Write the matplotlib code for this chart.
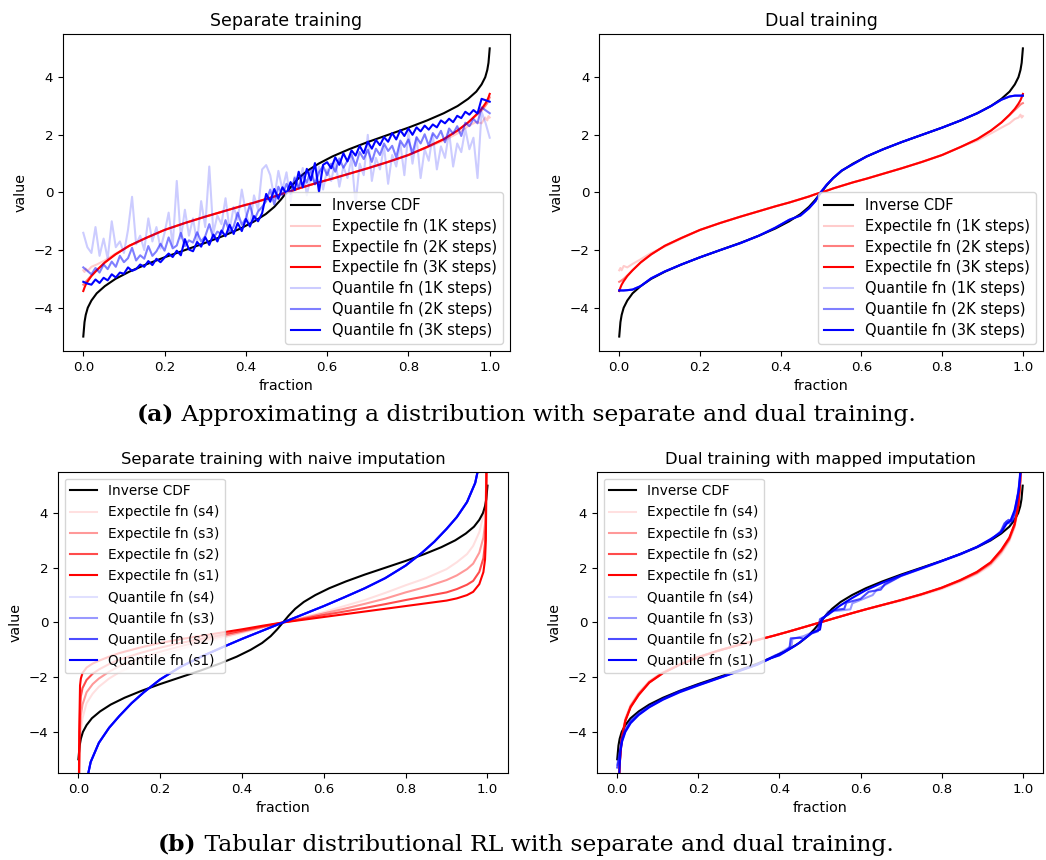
import numpy as np
import matplotlib.pyplot as plt

# fractions for the smooth curves (denser near the tails)
frac = [0, 0.003, 0.006, 0.011, 0.02, 0.033, 0.053, 0.079, 0.113, 0.154,
        0.2, 0.25, 0.3, 0.346, 0.387, 0.421, 0.449, 0.47, 0.486, 0.5,
        0.514, 0.53, 0.551, 0.579, 0.613, 0.654, 0.7, 0.75, 0.8, 0.846,
        0.887, 0.921, 0.947, 0.967, 0.98, 0.989, 0.994, 0.997, 1.0]

inverse_cdf = [-5.0, -4.5, -4.25, -4.0, -3.75, -3.5, -3.25, -3.0, -2.75, -2.5,
               -2.25, -2.0, -1.75, -1.5, -1.25, -1.0, -0.75, -0.5, -0.25, 0.0,
               0.25, 0.5, 0.75, 1.0, 1.25, 1.5, 1.75, 2.0, 2.25, 2.5,
               2.75, 3.0, 3.25, 3.5, 3.75, 4.0, 4.25, 4.5, 5.0]

# (a) expectile functions
exp_3k = [-3.42, -3.3, -3.2, -3.08, -2.9, -2.7, -2.43, -2.15, -1.85, -1.58,
          -1.3, -1.06, -0.84, -0.65, -0.48, -0.35, -0.23, -0.14, -0.06, 0.0,
          0.06, 0.14, 0.23, 0.35, 0.48, 0.65, 0.84, 1.06, 1.3, 1.58,
          1.85, 2.15, 2.43, 2.7, 2.9, 3.08, 3.2, 3.3, 3.42]
sep_exp_2k = [-3.2, -3.16, -3.1, -3.02, -2.88, -2.7, -2.43, -2.15, -1.85, -1.58,
              -1.3, -1.06, -0.84, -0.65, -0.48, -0.35, -0.23, -0.14, -0.06, 0.0,
              0.06, 0.14, 0.23, 0.35, 0.48, 0.65, 0.84, 1.06, 1.3, 1.58,
              1.85, 2.15, 2.43, 2.68, 2.85, 3.0, 3.1, 3.2, 3.3]
sep_exp_1k = [-2.7, -2.76, -2.64, -2.72, -2.58, -2.5, -2.36, -2.12, -1.86, -1.58,
              -1.3, -1.06, -0.84, -0.65, -0.48, -0.35, -0.23, -0.14, -0.06, 0.0,
              0.06, 0.14, 0.23, 0.35, 0.48, 0.65, 0.84, 1.06, 1.3, 1.56,
              1.8, 2.05, 2.3, 2.45, 2.4, 2.6, 2.5, 2.65, 2.6]
dual_exp_2k = [-3.1, -3.08, -3.05, -3.0, -2.88, -2.7, -2.43, -2.15, -1.85, -1.58,
               -1.3, -1.06, -0.84, -0.65, -0.48, -0.35, -0.23, -0.14, -0.06, 0.0,
               0.06, 0.14, 0.23, 0.35, 0.48, 0.65, 0.84, 1.06, 1.3, 1.58,
               1.85, 2.15, 2.43, 2.68, 2.86, 2.98, 3.05, 3.08, 3.1]
dual_exp_1k = [-2.7, -2.62, -2.7, -2.55, -2.6, -2.48, -2.32, -2.1, -1.88, -1.6,
               -1.3, -1.06, -0.84, -0.65, -0.48, -0.35, -0.23, -0.14, -0.06, 0.0,
               0.06, 0.14, 0.23, 0.35, 0.48, 0.65, 0.84, 1.06, 1.3, 1.58,
               1.8, 2.05, 2.25, 2.4, 2.55, 2.6, 2.7, 2.6, 2.65]

# (a) dual training quantile function
dual_quant = [-3.4, -3.4, -3.4, -3.4, -3.39, -3.37, -3.25, -2.98, -2.74, -2.5,
              -2.25, -2.0, -1.76, -1.5, -1.22, -0.95, -0.8, -0.55, -0.3, 0.02,
              0.27, 0.5, 0.76, 0.98, 1.25, 1.5, 1.75, 2.0, 2.25, 2.5,
              2.75, 3.0, 3.22, 3.33, 3.36, 3.36, 3.36, 3.36, 3.36]

# (a) separate training quantile functions, sampled every 0.01
frac_101 = np.linspace(0, 1, 101)
sep_q_3k = [-3.10, -3.16, -3.20, -3.02, -3.14, -2.96, -3.05, -2.84, -2.95, -2.78,
            -2.82, -2.60, -2.72, -2.66, -2.50, -2.58, -2.38, -2.52, -2.30, -2.42,
            -2.26, -2.12, -2.24, -2.02, -2.18, -1.62, -1.98, -2.04, -1.72, -1.88,
            -1.55, -1.82, -1.46, -1.70, -1.32, -1.52, -1.12, -1.44, -1.06, -1.34,
            -0.92, -1.18, -0.82, -1.00, -0.72, -0.05, -0.32, 0.12, -0.22, 0.18,
            -0.04, 0.36, 0.08, 0.72, 0.18, 0.82, 0.42, 1.02, 0.02, 0.96,
            1.05, 0.84, 1.22, 0.96, 1.36, 1.08, 1.46, 1.28, 1.62, 1.36,
            1.76, 1.52, 1.82, 1.64, 1.92, 1.76, 2.06, 1.84, 2.16, 1.96,
            2.22, 2.00, 2.26, 2.12, 2.32, 2.18, 2.36, 2.26, 2.50, 2.40,
            2.56, 2.44, 2.66, 2.58, 2.80, 2.70, 2.86, 2.74, 3.25, 3.20, 3.15]
sep_q_2k = [-2.60, -2.72, -2.84, -2.62, -2.78, -2.50, -2.66, -2.40, -2.58, -2.20,
            -2.42, -2.28, -1.92, -2.36, -2.18, -2.30, -1.86, -2.20, -2.04, -1.78,
            -2.02, -1.56, -1.94, -1.84, -1.40, -1.86, -1.66, -1.74, -1.38, -1.70,
            -1.52, -1.10, -1.58, -1.36, -1.44, -0.96, -1.40, -1.18, -0.70, -1.12,
            -0.90, -0.42, -0.98, -0.66, -0.50, -0.30, 0.10, -0.42, 0.20, -0.10,
            0.30, -0.05, 0.50, 0.15, 0.62, 0.34, 0.80, 0.28, 0.70, 0.92,
            0.60, 1.00, 0.72, 1.18, 0.86, 1.10, 1.32, 0.92, 1.40, 1.16,
            1.48, 1.06, 1.52, 1.30, 1.70, 1.44, 1.62, 1.22, 1.80, 1.58,
            1.84, 1.36, 1.92, 1.70, 2.02, 1.62, 2.06, 1.88, 2.14, 1.74,
            2.22, 2.04, 2.30, 1.96, 2.42, 2.30, 2.55, 2.40, 2.95, 2.85, 2.75]
sep_q_1k = [-1.40, -1.90, -2.10, -1.20, -2.20, -1.60, -2.30, -1.00, -1.90, -1.70,
            -2.10, -1.30, -0.15, -1.80, -1.50, -2.00, -0.90, -1.70, -1.20, -1.95,
            -1.40, -0.70, -1.85, 0.40, -1.60, -0.60, -1.50, -0.90, -1.75, -0.30,
            -1.20, 0.90, -1.40, -0.80, -1.10, -0.20, -1.30, -0.50, -0.95, 0.10,
            -0.70, -1.20, -0.10, -0.60, 0.80, 0.95, 0.60, -0.20, 0.75, 0.10,
            0.70, -0.30, 0.55, 0.20, 0.85, -0.10, 0.60, 0.30, 0.90, 0.10,
            0.80, 0.40, 1.10, 0.20, 0.90, 0.50, 1.20, -0.40, 1.00, 0.60,
            2.00, 0.40, 1.20, 0.80, 1.60, 0.30, 1.30, 0.90, 1.70, 0.60,
            2.10, 1.00, 1.90, 0.50, 1.50, 1.10, 2.00, 0.80, 1.60, 1.20,
            2.10, 0.90, 1.70, 1.40, 2.20, 1.50, 1.90, 0.50, 2.80, 2.40, 1.90]

# (b) separate training with naive imputation
frac_naive = [0, 0.002, 0.004, 0.006, 0.01, 0.02, 0.035, 0.05, 0.075, 0.1,
              0.15, 0.2, 0.25, 0.3, 0.35, 0.4, 0.45, 0.5, 0.55, 0.6,
              0.65, 0.7, 0.75, 0.8, 0.85, 0.9, 0.925, 0.95, 0.965, 0.98,
              0.99, 0.994, 0.996, 0.998, 1.0]
naive_exp_s1 = [-9.0, -4.0, -2.3, -2.05, -1.85, -1.65, -1.5, -1.4, -1.25, -1.12,
                -0.92, -0.75, -0.61, -0.49, -0.37, -0.25, -0.12, 0.0, 0.1, 0.2,
                0.3, 0.4, 0.5, 0.6, 0.7, 0.8, 0.88, 1.0, 1.12, 1.4,
                1.84, 2.3, 3.0, 6.0, 9.0]
naive_exp_s2 = [-9.0, -5.0, -3.2, -2.7, -2.4, -2.1, -1.87, -1.72, -1.52, -1.36,
                -1.12, -0.92, -0.75, -0.6, -0.45, -0.3, -0.15, 0.0, 0.13, 0.27,
                0.4, 0.53, 0.67, 0.82, 0.96, 1.1, 1.22, 1.38, 1.52, 1.85,
                2.35, 2.9, 3.8, 6.5, 9.0]
naive_exp_s3 = [-9.0, -5.5, -4.0, -3.4, -3.0, -2.55, -2.25, -2.05, -1.8, -1.6,
                -1.3, -1.07, -0.87, -0.68, -0.51, -0.34, -0.17, 0.0, 0.16, 0.33,
                0.5, 0.68, 0.87, 1.1, 1.3, 1.55, 1.72, 1.95, 2.15, 2.55,
                3.1, 3.6, 4.3, 6.5, 9.0]
naive_exp_s4 = [-9.0, -6.0, -4.6, -4.0, -3.5, -2.95, -2.6, -2.35, -2.05, -1.82,
                -1.48, -1.2, -0.97, -0.76, -0.57, -0.38, -0.19, 0.0, 0.19, 0.38,
                0.6, 0.82, 1.08, 1.36, 1.62, 1.95, 2.2, 2.5, 2.8, 3.3,
                3.9, 4.3, 4.9, 6.5, 9.0]
frac_naive_q = [0.01, 0.02, 0.03, 0.05, 0.075, 0.1, 0.13, 0.16, 0.2, 0.25,
                0.3, 0.35, 0.4, 0.45, 0.5, 0.55, 0.6, 0.65, 0.7, 0.75,
                0.8, 0.84, 0.87, 0.9, 0.925, 0.95, 0.97, 0.98, 0.99]
naive_quant = [-7.0, -5.8, -5.1, -4.4, -3.85, -3.42, -2.95, -2.55, -2.08, -1.62,
               -1.25, -0.92, -0.6, -0.3, 0.0, 0.3, 0.6, 0.92, 1.25, 1.62,
               2.08, 2.55, 2.95, 3.42, 3.85, 4.4, 5.1, 5.8, 7.0]

# (b) dual training with mapped imputation
mapped_exp_s1 = [-9.0, -6.5, -5.2, -4.3, -3.6, -3.1, -2.65, -2.2, -1.85, -1.55,
                 -1.27, -1.03, -0.82, -0.64, -0.48, -0.34, -0.22, -0.13, -0.06, 0.0,
                 0.06, 0.13, 0.22, 0.34, 0.48, 0.64, 0.82, 1.03, 1.27, 1.55,
                 1.85, 2.2, 2.65, 3.1, 3.6, 4.3, 5.2, 6.5, 9.0]
mapped_exp_s2 = [-9.0, -6.4, -5.15, -4.25, -3.58, -3.08, -2.63, -2.19, -1.84, -1.54,
                 -1.27, -1.03, -0.82, -0.64, -0.48, -0.34, -0.22, -0.13, -0.06, 0.0,
                 0.06, 0.13, 0.22, 0.34, 0.48, 0.64, 0.82, 1.03, 1.27, 1.54,
                 1.83, 2.18, 2.62, 3.07, 3.57, 4.25, 5.15, 6.4, 9.0]
mapped_exp_s3 = [-9.0, -6.4, -5.1, -4.2, -3.55, -3.05, -2.6, -2.17, -1.83, -1.53,
                 -1.26, -1.02, -0.82, -0.64, -0.48, -0.34, -0.22, -0.13, -0.06, 0.0,
                 0.06, 0.13, 0.22, 0.34, 0.48, 0.64, 0.81, 1.02, 1.25, 1.52,
                 1.8, 2.14, 2.57, 3.02, 3.52, 4.2, 5.1, 6.4, 9.0]
mapped_exp_s4 = [-9.0, -6.3, -5.0, -4.15, -3.5, -3.0, -2.56, -2.14, -1.8, -1.51,
                 -1.25, -1.02, -0.81, -0.63, -0.48, -0.34, -0.22, -0.13, -0.06, 0.0,
                 0.06, 0.13, 0.22, 0.33, 0.47, 0.62, 0.79, 0.99, 1.22, 1.48,
                 1.76, 2.08, 2.5, 2.96, 3.46, 4.15, 5.0, 6.3, 9.0]

mapped_q_s1_x = [0.004, 0.008, 0.012, 0.02, 0.033, 0.053, 0.079, 0.113, 0.154, 0.2,
                 0.25, 0.3, 0.346, 0.38, 0.4, 0.42, 0.44, 0.46, 0.48, 0.5,
                 0.505, 0.52, 0.55, 0.58, 0.613, 0.654, 0.7, 0.75, 0.8, 0.846,
                 0.887, 0.921, 0.947, 0.96, 0.97, 0.98, 0.99, 0.995, 1.0]
mapped_q_s1 = [-5.8, -4.7, -4.35, -4.0, -3.68, -3.38, -3.1, -2.82, -2.55, -2.3,
               -2.04, -1.78, -1.54, -1.3, -1.2, -1.02, -0.84, -0.62, -0.38, -0.26,
               0.14, 0.3, 0.62, 0.9, 1.18, 1.45, 1.72, 1.98, 2.25, 2.5,
               2.76, 3.05, 3.3, 3.6, 3.72, 4.1, 4.8, 5.6, 6.5]
mapped_q_s2_x = [0.0, 0.006, 0.012, 0.02, 0.033, 0.053, 0.079, 0.113, 0.154, 0.2,
                 0.25, 0.3, 0.346, 0.39, 0.41, 0.425, 0.428, 0.45, 0.46, 0.48,
                 0.495, 0.5, 0.52, 0.535, 0.56, 0.565, 0.6, 0.62, 0.65, 0.66,
                 0.7, 0.75, 0.8, 0.846, 0.887, 0.921, 0.945, 0.955, 0.965, 0.975,
                 0.985, 0.993, 1.0]
mapped_q_s2 = [-5.3, -4.8, -4.3, -3.95, -3.62, -3.35, -3.08, -2.8, -2.52, -2.28,
               -2.03, -1.77, -1.53, -1.2, -1.1, -0.92, -0.58, -0.56, -0.6, -0.4,
               -0.32, 0.12, 0.28, 0.45, 0.5, 0.72, 0.86, 1.12, 1.2, 1.4,
               1.7, 1.97, 2.24, 2.5, 2.76, 3.02, 3.3, 3.62, 3.75, 3.7,
               4.3, 5.2, 6.5]
mapped_q_s3_x = [0.0, 0.006, 0.012, 0.02, 0.033, 0.053, 0.079, 0.113, 0.154, 0.2,
                 0.25, 0.3, 0.346, 0.39, 0.43, 0.432, 0.46, 0.49, 0.505, 0.52,
                 0.54, 0.575, 0.58, 0.63, 0.64, 0.7, 0.75, 0.8, 0.846, 0.887,
                 0.921, 0.95, 0.96, 0.97, 0.98, 0.99, 1.0]
mapped_q_s3 = [-5.2, -4.7, -4.2, -3.9, -3.58, -3.3, -3.04, -2.78, -2.5, -2.27,
               -2.02, -1.76, -1.52, -1.22, -0.86, -0.6, -0.5, -0.3, 0.05, 0.4,
               0.42, 0.48, 0.7, 1.0, 1.2, 1.7, 1.96, 2.23, 2.48, 2.74,
               3.0, 3.4, 3.7, 3.6, 4.0, 4.9, 6.5]

steps = ['1K', '2K', '3K']
step_alpha = [0.2, 0.5, 1.0]
seeds = ['s4', 's3', 's2', 's1']
seed_alpha = [0.12, 0.4, 0.7, 1.0]

fig = plt.figure(figsize=(10.46, 8.6), dpi=100)
ax1 = fig.add_axes([0.0602, 0.5919, 0.4274, 0.3686])
ax2 = fig.add_axes([0.5727, 0.5919, 0.4245, 0.3686])
ax3 = fig.add_axes([0.0554, 0.1012, 0.4302, 0.3500])
ax4 = fig.add_axes([0.5707, 0.1012, 0.4264, 0.3500])


def finish(ax, title, loc, title_size, legend_size, spacing):
    ax.set_title(title, fontsize=title_size)
    ax.set_xlabel('fraction', fontsize=10.3)
    ax.set_ylabel('value', fontsize=10.3)
    ax.set_xlim(-0.05, 1.05)
    ax.set_ylim(-5.5, 5.5)
    ax.tick_params(labelsize=9.6)
    ax.legend(loc=loc, fontsize=legend_size, labelspacing=spacing)


# Separate training
ax1.plot(frac, inverse_cdf, color='black', label='Inverse CDF')
for s, a, ys in zip(steps, step_alpha, [sep_exp_1k, sep_exp_2k, exp_3k]):
    ax1.plot(frac, ys, color='red', alpha=a, label=f'Expectile fn ({s} steps)')
for s, a, ys in zip(steps, step_alpha, [sep_q_1k, sep_q_2k, sep_q_3k]):
    ax1.plot(frac_101, ys, color='blue', alpha=a, label=f'Quantile fn ({s} steps)')
finish(ax1, 'Separate training', 'lower right', 12.5, 10.5, 0.4)

# Dual training
ax2.plot(frac, inverse_cdf, color='black', label='Inverse CDF')
for s, a, ys in zip(steps, step_alpha, [dual_exp_1k, dual_exp_2k, exp_3k]):
    ax2.plot(frac, ys, color='red', alpha=a, label=f'Expectile fn ({s} steps)')
for s, a in zip(steps, step_alpha):
    ax2.plot(frac, dual_quant, color='blue', alpha=a, label=f'Quantile fn ({s} steps)')
finish(ax2, 'Dual training', 'lower right', 12.5, 10.5, 0.4)

# Separate training with naive imputation
ax3.plot(frac, inverse_cdf, color='black', label='Inverse CDF')
for s, a, ys in zip(seeds, seed_alpha, [naive_exp_s4, naive_exp_s3, naive_exp_s2, naive_exp_s1]):
    ax3.plot(frac_naive, ys, color='red', alpha=a, label=f'Expectile fn ({s})')
for s, a in zip(seeds, seed_alpha):
    ax3.plot(frac_naive_q, naive_quant, color='blue', alpha=a, label=f'Quantile fn ({s})')
finish(ax3, 'Separate training with naive imputation', 'upper left', 11.7, 9.8, 0.53)

# Dual training with mapped imputation
ax4.plot(frac, inverse_cdf, color='black', label='Inverse CDF')
for s, a, ys in zip(seeds, seed_alpha, [mapped_exp_s4, mapped_exp_s3, mapped_exp_s2, mapped_exp_s1]):
    ax4.plot(frac, ys, color='red', alpha=a, label=f'Expectile fn ({s})')
q_sets = [(mapped_q_s1_x, mapped_q_s1), (mapped_q_s3_x, mapped_q_s3),
          (mapped_q_s2_x, mapped_q_s2), (mapped_q_s1_x, mapped_q_s1)]
for s, a, (xs, ys) in zip(seeds, seed_alpha, q_sets):
    ax4.plot(xs, ys, color='blue', alpha=a, label=f'Quantile fn ({s})')
finish(ax4, 'Dual training with mapped imputation', 'upper left', 11.7, 9.8, 0.53)


# sub-captions: bold label followed by plain text, centred as a whole
def caption(y, label, text):
    r = fig.canvas.get_renderer()
    kw = dict(fontfamily='DejaVu Serif', fontsize=16.9, va='baseline')
    t1 = fig.text(0, y, label, fontweight='bold', **kw)
    t2 = fig.text(0, y, ' ' + text, **kw)
    w1 = t1.get_window_extent(renderer=r).width
    w2 = t2.get_window_extent(renderer=r).width
    x0 = 526 - (w1 + w2) / 2
    t1.set_x(x0 / fig.bbox.width)
    t2.set_x((x0 + w1) / fig.bbox.width)


caption(0.511, '(a)', 'Approximating a distribution with separate and dual training.')
caption(0.011, '(b)', 'Tabular distributional RL with separate and dual training.')

fig.savefig('out.png', dpi=100)
